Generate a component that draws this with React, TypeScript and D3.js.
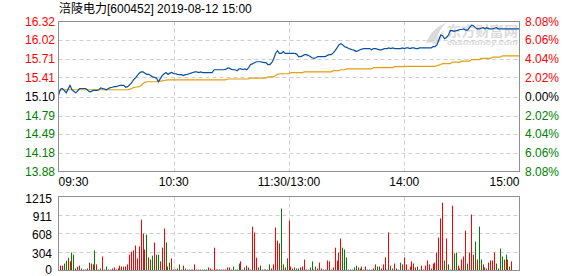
import React from 'react';
import * as d3 from 'd3';

const title = '涪陵电力[600452] 2019-08-12 15:00';
const priceTicks = ['16.32', '16.02', '15.71', '15.41', '15.10', '14.79', '14.49', '14.18', '13.88'];
const pctTicks = ['8.08%', '6.06%', '4.04%', '2.02%', '0.00%', '2.02%', '4.04%', '6.06%', '8.08%'];
const tickSign = [1, 1, 1, 1, 0, -1, -1, -1, -1];
const volTicks = [1215, 911, 608, 304, 0];
const timeLabels = ['09:30', '10:30', '11:30/13:00', '14:00', '15:00'];
const timeLabelMinutes = [0, 60, 120, 180, 240];

const price = [
  15.12, 15.22, 15.23, 15.20, 15.16, 15.22, 15.28, 15.21, 15.18, 15.16,
  15.19, 15.23, 15.23, 15.23, 15.23, 15.21, 15.18, 15.18, 15.20, 15.20,
  15.20, 15.21, 15.24, 15.23, 15.22, 15.21, 15.23, 15.245, 15.25, 15.26,
  15.26, 15.27, 15.28, 15.28, 15.28, 15.25, 15.26, 15.29, 15.32, 15.37,
  15.40, 15.44, 15.48, 15.50, 15.50, 15.48, 15.46, 15.46, 15.44, 15.42,
  15.41, 15.40, 15.34, 15.39, 15.44, 15.47, 15.49, 15.46, 15.48, 15.49,
  15.47, 15.47, 15.46, 15.455, 15.455, 15.44, 15.455, 15.46, 15.47, 15.48,
  15.49, 15.50, 15.50, 15.49, 15.50, 15.49, 15.49, 15.49, 15.49, 15.49,
  15.49, 15.535, 15.535, 15.535, 15.535, 15.535, 15.535, 15.54, 15.56, 15.56,
  15.54, 15.535, 15.535, 15.52, 15.55, 15.55, 15.54, 15.55, 15.535, 15.57,
  15.62, 15.63, 15.65, 15.665, 15.665, 15.665, 15.66, 15.65, 15.65, 15.62,
  15.62, 15.65, 15.71, 15.80, 15.845, 15.80, 15.80, 15.83, 15.80, 15.80,
  15.80, 15.80, 15.80, 15.80, 15.79, 15.75, 15.75, 15.76, 15.78, 15.78,
  15.77, 15.75, 15.73, 15.72, 15.73, 15.75, 15.75, 15.75, 15.75, 15.75,
  15.77, 15.78, 15.78, 15.81, 15.845, 15.89, 15.94, 15.96, 15.94, 15.91,
  15.90, 15.88, 15.87, 15.86, 15.85, 15.83, 15.845, 15.86, 15.87, 15.88,
  15.88, 15.88, 15.88, 15.86, 15.88, 15.88, 15.87, 15.86, 15.86, 15.87,
  15.88, 15.88, 15.89, 15.88, 15.89, 15.88, 15.88, 15.88, 15.88, 15.89,
  15.88, 15.89, 15.89, 15.88, 15.89, 15.89, 15.88, 15.88, 15.89, 15.89,
  15.89, 15.89, 15.89, 15.89, 15.89, 15.91, 15.91, 15.94, 16.02, 16.10,
  16.09, 16.04, 16.06, 16.10, 16.17, 16.17, 16.16, 16.17, 16.18, 16.19,
  16.19, 16.20, 16.18, 16.18, 16.22, 16.26, 16.25, 16.22, 16.20, 16.20,
  16.21, 16.22, 16.20, 16.22, 16.20, 16.20, 16.20, 16.21, 16.22, 16.20,
  16.20, 16.20, 16.20, 16.20, 16.20, 16.20, 16.20, 16.20, 16.20, 16.20,
  16.20,
];

const avgPrice = [
  15.19, 15.20, 15.21, 15.21, 15.21, 15.21, 15.21, 15.21, 15.21, 15.21,
  15.21, 15.21, 15.21, 15.21, 15.21, 15.21, 15.21, 15.21, 15.21, 15.21,
  15.21, 15.21, 15.21, 15.21, 15.21, 15.21, 15.21, 15.21, 15.21, 15.21,
  15.21, 15.21, 15.21, 15.21, 15.21, 15.21, 15.21, 15.215, 15.23, 15.245,
  15.25, 15.255, 15.26, 15.28, 15.31, 15.33, 15.34, 15.34, 15.34, 15.34,
  15.34, 15.34, 15.34, 15.35, 15.355, 15.36, 15.365, 15.37, 15.37, 15.37,
  15.37, 15.37, 15.37, 15.37, 15.37, 15.37, 15.37, 15.37, 15.37, 15.37,
  15.37, 15.37, 15.37, 15.37, 15.37, 15.37, 15.37, 15.37, 15.37, 15.37,
  15.37, 15.37, 15.37, 15.37, 15.37, 15.37, 15.37, 15.37, 15.385, 15.385,
  15.385, 15.385, 15.385, 15.385, 15.385, 15.385, 15.385, 15.385, 15.385, 15.385,
  15.40, 15.40, 15.40, 15.40, 15.40, 15.40, 15.40, 15.40, 15.40, 15.42,
  15.42, 15.42, 15.42, 15.44, 15.46, 15.47, 15.47, 15.47, 15.47, 15.47,
  15.47, 15.49, 15.49, 15.49, 15.49, 15.49, 15.49, 15.49, 15.50, 15.50,
  15.50, 15.50, 15.50, 15.50, 15.50, 15.50, 15.50, 15.50, 15.50, 15.50,
  15.50, 15.50, 15.50, 15.52, 15.52, 15.52, 15.52, 15.535, 15.535, 15.535,
  15.55, 15.55, 15.55, 15.55, 15.55, 15.55, 15.55, 15.55, 15.55, 15.55,
  15.55, 15.55, 15.55, 15.55, 15.57, 15.57, 15.57, 15.57, 15.57, 15.57,
  15.57, 15.57, 15.57, 15.57, 15.57, 15.585, 15.585, 15.585, 15.585, 15.585,
  15.585, 15.59, 15.59, 15.59, 15.59, 15.59, 15.59, 15.59, 15.59, 15.59,
  15.59, 15.59, 15.59, 15.59, 15.59, 15.59, 15.59, 15.60, 15.61, 15.62,
  15.635, 15.635, 15.635, 15.635, 15.635, 15.66, 15.66, 15.66, 15.66, 15.66,
  15.675, 15.675, 15.675, 15.675, 15.675, 15.70, 15.70, 15.70, 15.70, 15.70,
  15.72, 15.72, 15.72, 15.72, 15.72, 15.72, 15.74, 15.74, 15.74, 15.74,
  15.74, 15.76, 15.76, 15.76, 15.76, 15.76, 15.76, 15.76, 15.76, 15.76,
  15.76,
];

const volume = [
  120, 80, 80, 115, 160, 210, 150, 295, 260, 33,
  60, 80, 33, 16, 16, 33, 130, 115, 100, 330,
  100, 16, 33, 230, 16, 65, 16, 16, 33, 50,
  16, 33, 80, 65, 65, 65, 100, 260, 310, 330,
  410, 200, 395, 835, 605, 345, 590, 215, 180, 245,
  460, 260, 260, 150, 375, 690, 460, 65, 130, 200,
  16, 16, 33, 100, 16, 80, 33, 16, 16, 16,
  16, 100, 16, 16, 16, 16, 16, 16, 50, 33,
  16, 375, 16, 16, 16, 16, 16, 16, 50, 50,
  16, 65, 16, 16, 115, 150, 16, 50, 80, 50,
  16, 720, 625, 210, 50, 80, 16, 16, 16, 16,
  100, 33, 100, 705, 490, 445, 1017, 100, 50, 200,
  820, 65, 33, 50, 33, 33, 50, 65, 180, 16,
  16, 50, 150, 16, 65, 33, 130, 33, 16, 16,
  165, 150, 16, 50, 375, 165, 295, 525, 375, 345,
  215, 16, 16, 16, 50, 80, 50, 33, 65, 16,
  65, 16, 16, 16, 33, 100, 65, 65, 33, 100,
  215, 16, 625, 80, 33, 115, 33, 16, 130, 100,
  215, 100, 16, 65, 150, 115, 50, 65, 16, 80,
  16, 80, 165, 100, 33, 115, 130, 295, 540, 855,
  1115, 165, 525, 100, 16, 1065, 280, 295, 80, 33,
  180, 230, 655, 115, 295, 920, 260, 475, 180, 720,
  180, 100, 50, 33, 130, 165, 165, 295, 115, 33,
  360, 230, 180, 260, 180, 65, 150, 0, 0, 0,
  345,
];

// r = up minute, g = down minute
const volumeDir = (
  'rrrggrrggg' + 'rrgrrrgrrg' + 'rrgrrgrrrr' + 'rrrrgrrrrr' + 'rrrrrrgrgg' +
  'rggrrrgrgr' + 'rrrgrrggrr' + 'rrrrrgggrr' + 'rrrrrrrrrr' + 'rgrrgrrgrr' +
  'rrrrrgrrrr' + 'grrrrrggrg' + 'rrrgggrrrr' + 'rggrgrrrrg' + 'rrrrrrrrgg' +
  'grggggrrgr' + 'rrgrrrggrr' + 'rrrgrrgrgr' + 'rrgrrrrgrr' + 'rrrrrrrrrr' +
  'rgrgrrggrr' + 'rrrgrrrgrg' + 'grrgrrrrgr' + 'ggrgrgrrrr' + 'r'
).split('');

const W = 578;
const H = 276;
const FONT = '"Liberation Sans", Arial, "Noto Sans CJK SC", sans-serif';
const RED = '#ff0000';
const GREEN = '#008000';
const FRAME = '#8f8f8f';
const GRID = '#cfcfcf';

export default function App() {
  const x = d3.scaleLinear().domain([0, 240]).range([58.5, 519.5]);
  const yP = d3.scaleLinear().domain([13.88, 16.32]).range([171.5, 21.5]);
  const yV = d3.scaleLinear().domain([0, 1215]).range([270.5, 196.5]);

  const priceLine = d3.line<number>().x((_, i) => x(i)).y((d) => yP(d));
  const avgLine = d3.line<number>().x((_, i) => x(i)).y((d) => yP(d));

  const colorFor = (s: number) => (s > 0 ? RED : s < 0 ? GREEN : '#000');
  const innerMinutes = timeLabelMinutes.slice(1, -1);

  return (
    <svg width={W} height={H} style={{ position: 'absolute', left: 0, top: 0, display: 'block', background: '#fff' }}
      fontFamily={FONT}>
      {/* title */}
      <text x={59} y={12.5} fontSize={12} fill="#000">{title}</text>

      {/* watermark */}
      <g opacity={0.9}>
        <path d="M426,43 C430,33 436,27 446,23 C440,29 437,35 436,42 Z" fill="#d6d6d6" />
        <path d="M432,44 C437,38 441,33 444,30 C444,36 441,41 436,45 Z" fill="#e0e0e0" />
        <text x={447} y={35.5} fontSize={13.5} fontWeight="bold" fill="#d9d9d9" textLength={71} lengthAdjust="spacingAndGlyphs"
          fontFamily='"Noto Sans CJK SC", sans-serif'>东方财富网</text>
        <text x={447} y={45} fontSize={8} fontWeight="bold" fontStyle="italic" fill="#d9d9d9" textLength={71}
          lengthAdjust="spacingAndGlyphs">eastmoney.com</text>
      </g>

      {/* price grid */}
      {priceTicks.slice(1, -1).map((t, i) => (
        <line key={'hg' + i} x1={x(0)} x2={x(240)} y1={Math.round(yP(+t)) + 0.5} y2={Math.round(yP(+t)) + 0.5}
          stroke={GRID} strokeDasharray="4,3" />
      ))}
      {innerMinutes.map((m, i) => (
        <line key={'vg' + i} x1={Math.round(x(m)) + 0.5} x2={Math.round(x(m)) + 0.5} y1={yP(16.32)} y2={yP(13.88)}
          stroke={GRID} strokeDasharray="4,3" />
      ))}

      {/* volume grid */}
      {volTicks.slice(1, -1).map((v, i) => (
        <line key={'vhg' + i} x1={x(0)} x2={x(240)} y1={Math.round(yV(v)) + 0.5} y2={Math.round(yV(v)) + 0.5}
          stroke={GRID} strokeDasharray="4,3" />
      ))}
      {innerMinutes.map((m, i) => (
        <line key={'vvg' + i} x1={Math.round(x(m)) + 0.5} x2={Math.round(x(m)) + 0.5} y1={yV(1215)} y2={yV(0)}
          stroke={GRID} strokeDasharray="4,3" />
      ))}

      {/* volume bars */}
      {volume.map((v, i) => (
        v > 0 ? (
          <rect key={'b' + i} x={Math.floor(x(i))} width={1} y={yV(v)} height={yV(0) - 0.5 - yV(v)}
            fill={volumeDir[i] === 'g' ? GREEN : RED} />
        ) : null
      ))}

      {/* lines */}
      <path d={avgLine(avgPrice) || ''} fill="none" stroke="#e0a010" strokeWidth={1.2} />
      <path d={priceLine(price) || ''} fill="none" stroke="#0a4fa0" strokeWidth={1.2} />

      {/* frames */}
      <rect x={x(0)} y={yP(16.32)} width={x(240) - x(0)} height={yP(13.88) - yP(16.32)} fill="none" stroke={FRAME} />
      <rect x={x(0)} y={yV(1215)} width={x(240) - x(0)} height={yV(0) - yV(1215)} fill="none" stroke={FRAME} />

      {/* price labels */}
      {priceTicks.map((t, i) => (
        <text key={'pl' + i} x={55} y={yP(+t) + 4.3} fontSize={12} textAnchor="end" fill={colorFor(tickSign[i])}>{t}</text>
      ))}
      {pctTicks.map((t, i) => (
        <text key={'pr' + i} x={525} y={yP(+priceTicks[i]) + 4.3} fontSize={12} textAnchor="start"
          fill={colorFor(tickSign[i])}>{t}</text>
      ))}

      {/* time labels */}
      {timeLabels.map((t, i) => (
        <text key={'tl' + i} x={x(timeLabelMinutes[i])} y={186} fontSize={12}
          textAnchor={i === 0 ? 'start' : i === timeLabels.length - 1 ? 'end' : 'middle'} fill="#000">{t}</text>
      ))}

      {/* volume labels */}
      {volTicks.map((v, i) => (
        <text key={'vl' + i} x={52} y={Math.min(yV(v) + 6, 274)} fontSize={12} textAnchor="end" fill="#000">{v}</text>
      ))}
    </svg>
  );
}
